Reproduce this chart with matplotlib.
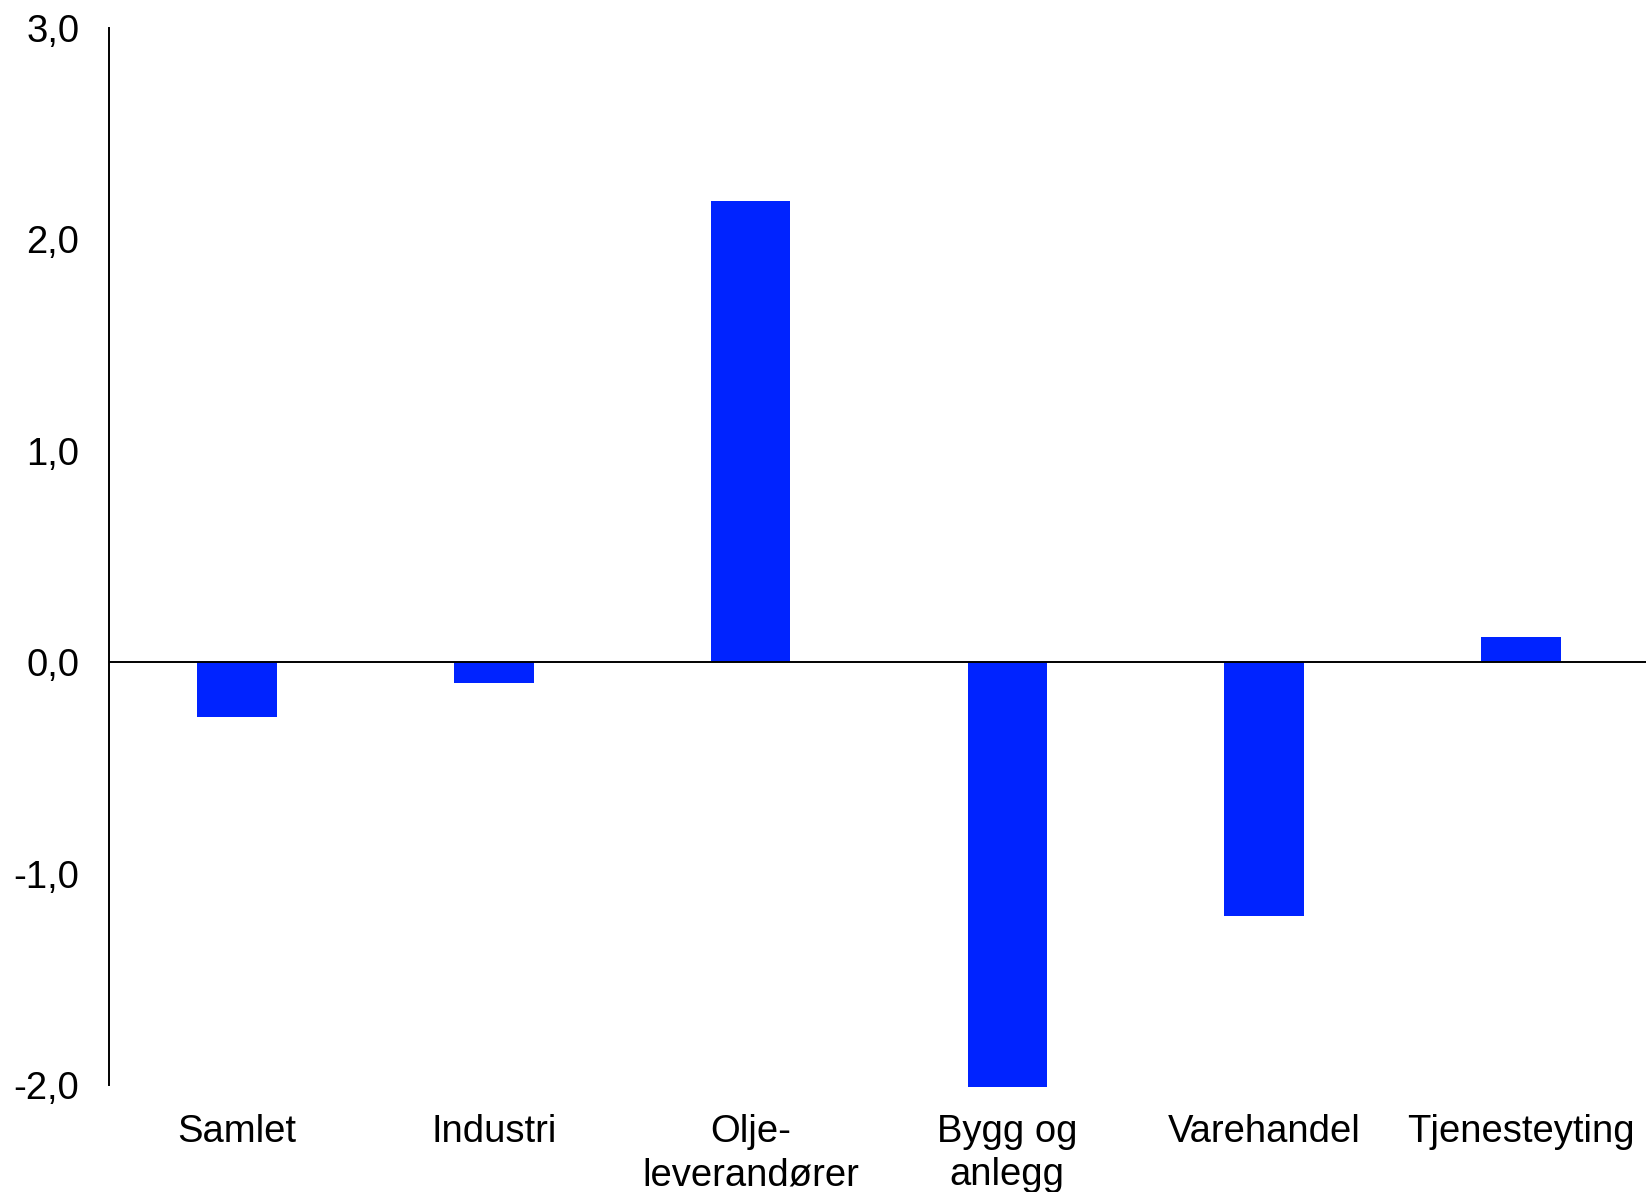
import matplotlib
matplotlib.use("Agg")
import matplotlib.pyplot as plt
import numpy as np

# Data
kategorier = ["Samlet", "Industri", "Olje-\nleverandører", "Bygg og\nanlegg",
              "Varehandel", "Tjenesteyting"]
verdier = [-0.26, -0.10, 2.18, -2.01, -1.20, 0.12]
y_ticks = [-2.0, -1.0, 0.0, 1.0, 2.0, 3.0]

plt.rcParams['font.family'] = ['Liberation Sans', 'DejaVu Sans']

fig = plt.figure(figsize=(16.46, 11.92), dpi=100)
ax = fig.add_axes([0.066, 0.0898, 0.936, 0.8867])

x = np.arange(len(kategorier))
ax.bar(x, verdier, width=0.31, color='#0023FF', clip_on=False, zorder=2)
ax.axhline(0, color='black', linewidth=1.4, zorder=3)

ax.set_xlim(-0.5, len(kategorier) - 0.5)
ax.set_ylim(-2.0, 3.0)
ax.set_yticks(y_ticks)
ax.set_yticklabels([f"{v:.1f}".replace(".", ",") for v in y_ticks])
ax.set_xticks(x)
ax.set_xticklabels(kategorier, linespacing=1.25)

ax.tick_params(axis='y', length=0, pad=21, labelsize=27.5)
ax.tick_params(axis='x', length=0, pad=21, labelsize=27.5)

for side in ['top', 'right', 'bottom']:
    ax.spines[side].set_visible(False)
ax.spines['left'].set_linewidth(1.4)

fig.savefig("out.png", dpi=100)
